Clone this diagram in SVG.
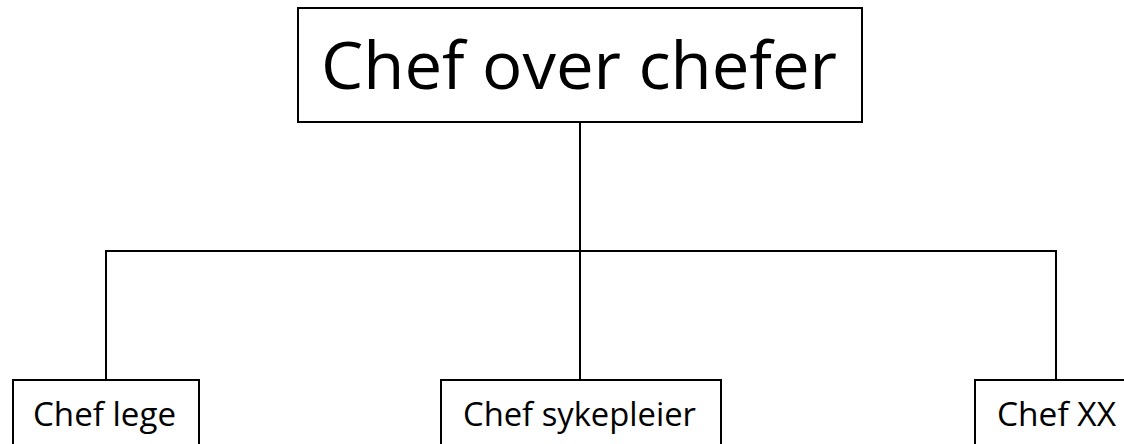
<svg xmlns="http://www.w3.org/2000/svg" width="1124" height="444" viewBox="0 0 1124 444">
<style>
.box{fill:#fff;stroke:#000;stroke-width:2}
.conn{fill:none;stroke:#000;stroke-width:2}
.t{font-family:"Open Sans","Noto Sans",sans-serif;fill:#000;text-anchor:middle}
</style>
<rect width="1124" height="444" fill="#fff"/>
<g id="connectors">
<path class="conn" d="M580 122 V380"/>
<path class="conn" d="M106 380 V251 H1056 V380"/>
</g>
<g id="top">
<rect class="box" x="298" y="8" width="564" height="114"/>
<text class="t" x="579" y="89" font-size="66" textLength="516" lengthAdjust="spacingAndGlyphs">Chef over chefer</text>
</g>
<g id="lege">
<rect class="box" x="13" y="380" width="186" height="80"/>
<text class="t" x="104.5" y="426" font-size="32" textLength="143" lengthAdjust="spacingAndGlyphs">Chef lege</text>
</g>
<g id="sykepleier">
<rect class="box" x="441" y="380" width="280" height="80"/>
<text class="t" x="579.5" y="426" font-size="32" textLength="233" lengthAdjust="spacingAndGlyphs">Chef sykepleier</text>
</g>
<g id="xx">
<rect class="box" x="975" y="380" width="170" height="80"/>
<text class="t" x="1056.5" y="426" font-size="32" textLength="119" lengthAdjust="spacingAndGlyphs">Chef XX</text>
</g>
</svg>
